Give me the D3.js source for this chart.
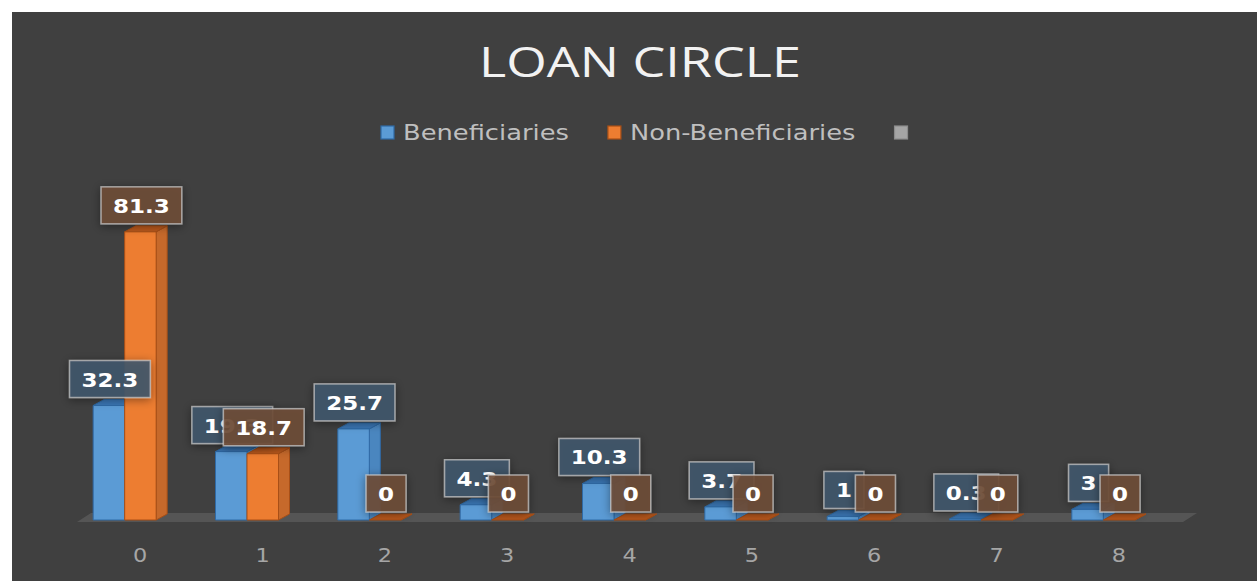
<!DOCTYPE html>
<html>
<head>
<meta charset="utf-8">
<script src="https://cdn.jsdelivr.net/npm/d3@7"></script>
<style>
  html, body { margin: 0; padding: 0; background: #fff; }
  svg { display: block; }
</style>
</head>
<body>
<svg id="chart" width="1257" height="581"></svg>
<script>
const categories = ['0', '1', '2', '3', '4', '5', '6', '7', '8'];
const seriesNames = ['Beneficiaries', 'Non-Beneficiaries'];
const beneficiaries = [32.3, 19.3, 25.7, 4.3, 10.3, 3.7, 1, 0.3, 3];
const nonBeneficiaries = [81.3, 18.7, 0, 0, 0, 0, 0, 0, 0];

const W = 1257, H = 581;
const svg = d3.select('#chart');

// the source picture is a bit wider than its fonts, so stretch texts horizontally
function stretch(sel, k) {
  const w = sel.node().getComputedTextLength();
  sel.attr('textLength', w * k).attr('lengthAdjust', 'spacingAndGlyphs');
  return w * k;
}

// background panel (white strip top/left like the screenshot)
svg.append('rect').attr('x', 12).attr('y', 12).attr('width', W - 12).attr('height', H - 12).attr('fill', '#404040');

const defs = svg.append('defs');
const shadow = defs.append('filter').attr('id', 'lblShadow')
  .attr('x', '-50%').attr('y', '-50%').attr('width', '200%').attr('height', '200%');
shadow.append('feDropShadow').attr('dx', 0).attr('dy', 2).attr('stdDeviation', 5)
  .attr('flood-color', '#000').attr('flood-opacity', 0.45);

const styles = {
  Beneficiaries: { front: '#5b9bd5', side: '#4a86bf', top: '#3a76b4', stroke: '#2f6aa6', box: '#41566b' },
  'Non-Beneficiaries': { front: '#ed7d31', side: '#c6692b', top: '#b9581c', stroke: '#a84f17', box: '#6f4c37' },
};

const baseY = 520;
const dx = 11, dy = -6;

const x = d3.scaleBand().domain(categories).range([79, 1180]);
const x1 = d3.scaleBand().domain(seriesNames).range([-47, 16]);
const y = d3.scaleLinear().domain([0, 90]).range([baseY, 201]);

// title
const title = svg.append('text')
  .attr('x', 640).attr('y', 77)
  .attr('text-anchor', 'middle')
  .attr('font-family', '"Open Sans", sans-serif')
  .attr('font-size', 42)
  .attr('fill', '#f2f2f2')
  .text('LOAN CIRCLE');
stretch(title, 1.24);

// legend
const legendItems = [
  { name: 'Beneficiaries', color: styles.Beneficiaries.front, stroke: styles.Beneficiaries.stroke },
  { name: 'Non-Beneficiaries', color: styles['Non-Beneficiaries'].front, stroke: styles['Non-Beneficiaries'].stroke },
  { name: '', color: '#a5a5a5', stroke: '#8c8c8c' },
];
const legend = svg.append('g');
let lx = 0;
legendItems.forEach((item) => {
  const g = legend.append('g').attr('transform', `translate(${lx},0)`);
  g.append('rect').attr('x', 0).attr('y', -14).attr('width', 13).attr('height', 13)
    .attr('fill', item.color).attr('stroke', item.stroke).attr('stroke-width', 1.2);
  let tw = 0;
  if (item.name) {
    const t = g.append('text').attr('x', 22).attr('y', 0)
      .attr('font-family', '"DejaVu Sans", sans-serif').attr('font-size', 22)
      .attr('fill', '#bfbfbf').text(item.name);
    tw = stretch(t, 1.17);
  }
  lx += 22 + tw + 39;
});
legend.attr('transform', `translate(${381},${140})`);

// floor
const [r0, r1] = x.range();
svg.append('polygon')
  .attr('points', [[r0 - 2, 522], [r1 + 3, 522], [r1 + 17, 513], [r0 + 12, 513]].map((p) => p.join(',')).join(' '))
  .attr('fill', '#555555');

// bars
const rows = categories.map((c, i) => ({
  cat: c,
  vals: [
    { key: 'Beneficiaries', v: beneficiaries[i] },
    { key: 'Non-Beneficiaries', v: nonBeneficiaries[i] },
  ],
}));

const bw = x1.bandwidth();
const barLayer = svg.append('g');
rows.forEach((row) => {
  const cx = x(row.cat) + x.bandwidth() / 2;
  row.vals.forEach((d) => {
    const st = styles[d.key];
    const x0 = cx + x1(d.key);
    const top = y(d.v);
    const g = barLayer.append('g').attr('stroke', st.stroke).attr('stroke-width', 1).attr('stroke-linejoin', 'round');
    g.append('polygon')
      .attr('points', [[x0 + bw, top], [x0 + bw + dx, top + dy], [x0 + bw + dx, baseY + dy], [x0 + bw, baseY]].join(' '))
      .attr('fill', st.side);
    g.append('polygon')
      .attr('points', [[x0, top], [x0 + dx, top + dy], [x0 + bw + dx, top + dy], [x0 + bw, top]].join(' '))
      .attr('fill', st.top);
    if (d.v > 0) {
      g.append('rect').attr('x', x0).attr('y', top).attr('width', bw).attr('height', baseY - top)
        .attr('fill', st.front);
    }
  });
});

// data labels
const labelLayer = svg.append('g');
rows.forEach((row) => {
  const cx = x(row.cat) + x.bandwidth() / 2;
  row.vals.forEach((d) => {
    const st = styles[d.key];
    const mid = cx + x1(d.key) + bw / 2 + 1;
    const bottom = y(d.v) + dy - 2;
    const g = labelLayer.append('g');
    const box = g.append('rect').attr('fill', st.box).attr('fill-opacity', 0.9)
      .attr('stroke', '#c4c4c4').attr('stroke-opacity', 0.75).attr('stroke-width', 1.5)
      .attr('filter', 'url(#lblShadow)');
    const t = g.append('text')
      .attr('x', mid).attr('y', bottom - 11)
      .attr('text-anchor', 'middle')
      .attr('font-family', '"DejaVu Sans", sans-serif')
      .attr('font-weight', 'bold').attr('font-size', 20)
      .attr('fill', '#ffffff')
      .text(d.v);
    const tw = stretch(t, 1.15);
    const bwid = tw + 24;
    box.attr('x', mid - bwid / 2).attr('y', bottom - 37).attr('width', bwid).attr('height', 37);
  });
});

// category axis
const axis = svg.append('g').attr('transform', `translate(0,${548})`)
  .call(d3.axisBottom(x).tickSize(0).tickPadding(0));
axis.select('.domain').remove();
axis.selectAll('text')
  .attr('font-family', '"DejaVu Sans", sans-serif')
  .attr('font-size', 20)
  .attr('fill', '#a6a6a6')
  .each(function () { stretch(d3.select(this), 1.12); });
</script>
</body>
</html>
